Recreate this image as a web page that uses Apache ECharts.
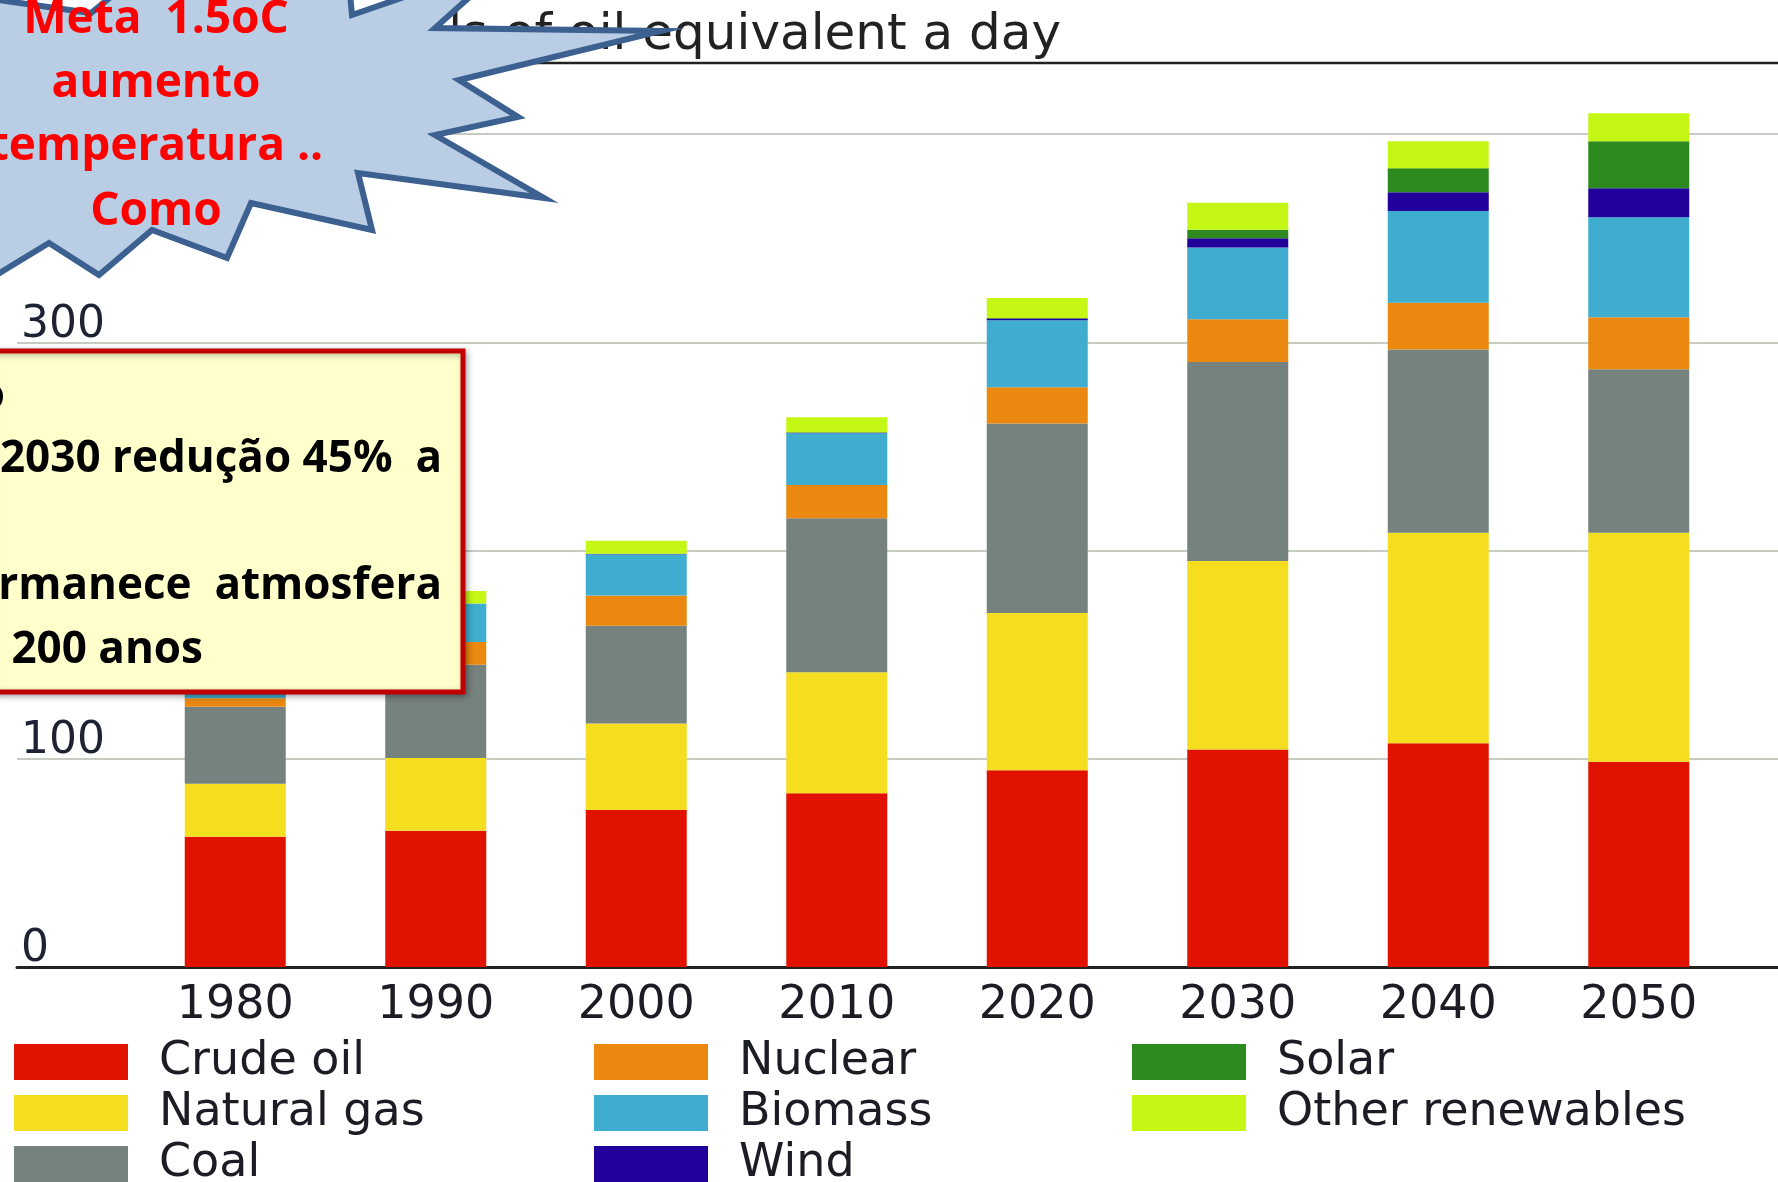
<!DOCTYPE html>
<html>
<head>
<meta charset="utf-8">
<script src="https://cdn.jsdelivr.net/npm/echarts@6/dist/echarts.min.js"></script>
<style>
html,body{margin:0;padding:0;background:#fff;}
#chart{width:1778px;height:1182px;}
</style>
</head>
<body>
<div id="chart"></div>
<script>
var categories = ['1980','1990','2000','2010','2020','2030','2040','2050'];
var crudeOil   = [62.5, 65.4, 75.4, 83.4, 94.5, 104.5, 107.5, 98.5];
var naturalGas = [25.5, 35.0, 41.5, 58.1, 75.5, 90.5, 101.0, 110.0];
var coal       = [37.0, 44.7, 47.0, 74.0, 91.0, 95.5, 88.0, 78.5];
var nuclear    = [4.0, 11.0, 14.5, 16.0, 17.4, 20.5, 22.5, 25.0];
var biomass    = [14.0, 18.4, 19.8, 24.8, 32.2, 34.5, 44.0, 48.0];
var wind       = [0, 0, 0.2, 0.3, 0.8, 4.5, 9.0, 14.0];
var solar      = [0, 0, 0, 0.2, 0.3, 4.0, 11.5, 22.5];
var otherRen   = [3.0, 6.0, 6.3, 7.2, 9.5, 13.0, 13.0, 13.5];
var yTicks = [0, 100, 200, 300, 400];

var seriesNames = ['Crude oil','Natural gas','Coal','Nuclear','Biomass','Wind','Solar','Other renewables'];
var seriesData = [crudeOil, naturalGas, coal, nuclear, biomass, wind, solar, otherRen];
var colors = ['#e11300','#f5dd1f','#76827d','#ea880f','#3eadcf','#21009b','#2c8a1f','#c5f714'];

var chart = echarts.init(document.getElementById('chart'), null, {renderer:'canvas'});

var series = seriesNames.map(function(n, i){
  return {
    name: n, type: 'bar', stack: 'total', xAxisIndex: 0, yAxisIndex: 0,
    barWidth: 101, data: seriesData[i], itemStyle: {color: colors[i]},
    emphasis: {disabled: true}, animation: false
  };
});

var legendText = {fontFamily:'DejaVu Sans', fontSize:46, color:'#1c1c24', lineHeight:36, padding:[0,0,0,26]};
function legend(left, names){
  return {data: names, left: left, top: 1039, height: 400, width: 600, orient: 'vertical', icon: 'rect',
    itemWidth: 114, itemHeight: 36, itemGap: 5, padding: 0, selectedMode: false,
    textStyle: legendText};
}

var starPts = [[-30,-4],[91,13],[181,-60],[345,-60],[352,15],[511,-40],[435,28],[661,31],[459,80],[518,117],[435,135],[544,198],[358,173],[372,230],[251,203],[227,258],[152,230],[99,275],[49,243],[-20,285],[-60,100]];

function txt(t, x, y, font, color, align){
  return {type:'text', z:101, style:{text:t, x:x, y:y, font:font, fill:color,
    align:align, textAlign:align, verticalAlign:'middle', textVerticalAlign:'middle'}};
}
var starFont = 'bold 46px "Open Sans"';
var boxFont = 'bold 44px "Open Sans"';

// both grids share the same scale: 400 units over 833 px
var pxPerUnit = 833 / 400;
var barMax = 450;

var option = {
  animation: false,
  backgroundColor: '#ffffff',
  title: {text: 'Million barrels of oil equivalent a day', right: 712, top: 6,
    textStyle: {fontFamily:'DejaVu Sans', fontSize:50, fontWeight:'normal', color:'#222'}},
  legend: [
    legend(14, ['Crude oil','Natural gas','Coal']),
    legend(594, ['Nuclear','Biomass','Wind']),
    legend(1132, ['Solar','Other renewables'])
  ],
  grid: [
    {left:135, right:39, top: 967 - barMax * pxPerUnit, bottom:215},
    {left:17, right:0, top:134, bottom:215}
  ],
  xAxis: [
    {type:'category', gridIndex:0, data: categories,
     axisLine:{show:false}, axisTick:{show:false},
     axisLabel:{fontFamily:'DejaVu Sans', fontSize:46, color:'#1c1c24', margin:16}},
    {type:'value', gridIndex:1, min:0, max:1, show:true,
     axisLine:{show:true, lineStyle:{color:'#222', width:3}},
     axisTick:{show:false}, axisLabel:{show:false}, splitLine:{show:false}}
  ],
  yAxis: [
    {type:'value', gridIndex:0, min:0, max:barMax, interval:150, show:false},
    {type:'value', gridIndex:1, min:yTicks[0], max:yTicks[yTicks.length-1], interval:100,
     axisLine:{show:false}, axisTick:{show:false},
     splitLine:{show:true, lineStyle:{color:'#c5cdc3', width:2}},
     axisLabel:{inside:true, margin:4, fontFamily:'DejaVu Sans', fontSize:44, color:'#1e2233',
       verticalAlign:'bottom', lineHeight:34, padding:0}}
  ],
  series: series,
  graphic: [
    {type:'line', z:5, shape:{x1:300,y1:63,x2:1778,y2:63}, style:{stroke:'#222', lineWidth:2.5}},
    {type:'polygon', z:100, shape:{points: starPts}, style:{fill:'#b9cde5', stroke:'#3c6090', lineWidth:6, lineJoin:'miter'}},
    txt('Meta  1.5oC', 156, 20, starFont, '#ff0000', 'center'),
    txt('aumento', 156, 84, starFont, '#ff0000', 'center'),
    txt('temperatura ..', 156, 147, starFont, '#ff0000', 'center'),
    txt('Como', 156, 212, starFont, '#ff0000', 'center'),
    {type:'rect', z:100, shape:{x:-10, y:351, width:473, height:341},
     style:{fill:'#ffffcc', stroke:'#c00000', lineWidth:5, shadowBlur:6, shadowColor:'rgba(0,0,0,0.3)', shadowOffsetX:2, shadowOffsetY:2}},
    txt('o', 5, 396, boxFont, '#000', 'right'),
    txt('2030 redução 45%  a', 442, 459, boxFont, '#000', 'right'),
    txt('permanece  atmosfera', 442, 586, boxFont, '#000', 'right'),
    txt(' 200 anos', 0, 650, boxFont, '#000', 'left')
  ]
};
chart.setOption(option);
</script>
</body>
</html>
